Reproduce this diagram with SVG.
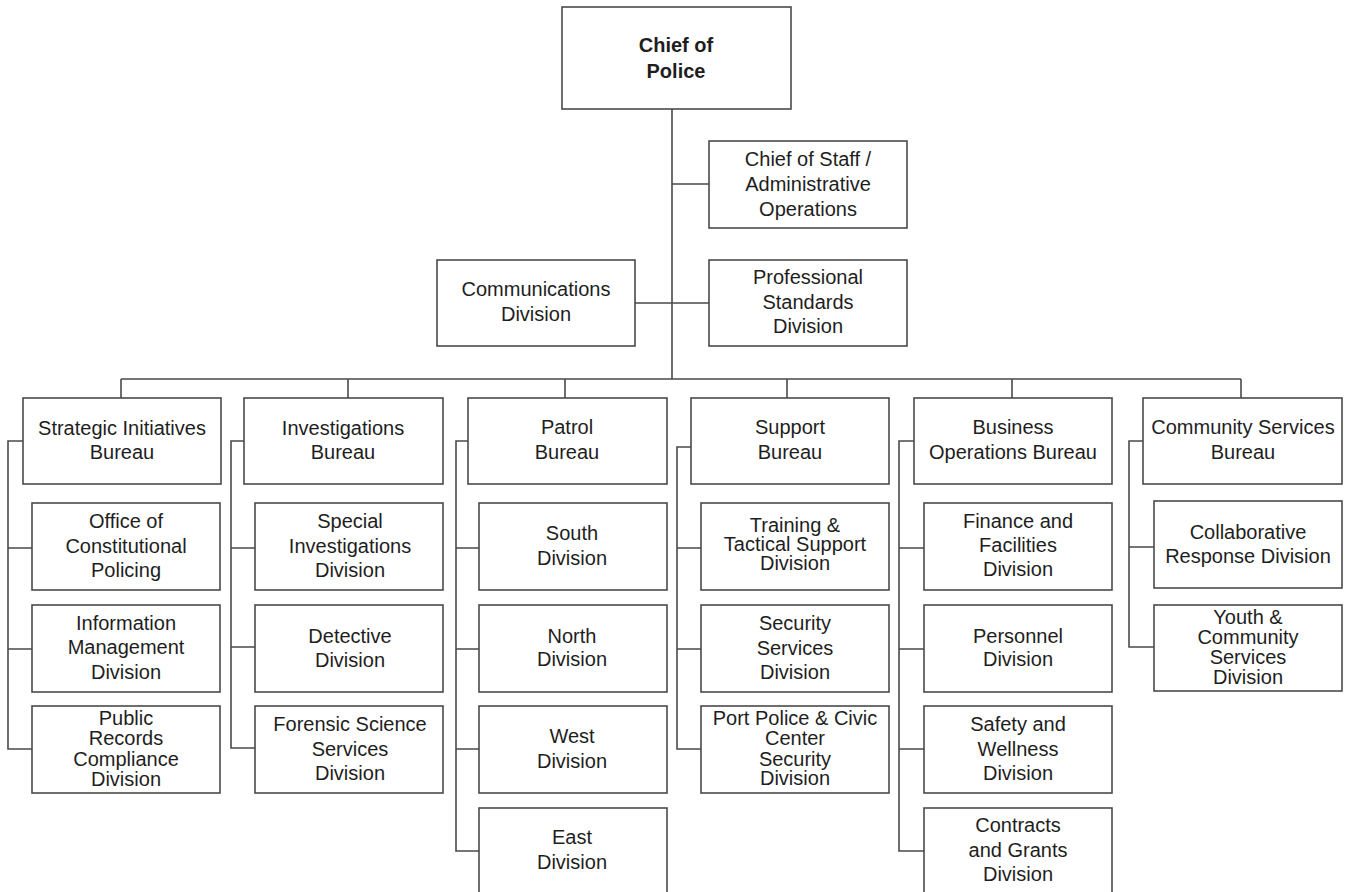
<svg xmlns="http://www.w3.org/2000/svg" width="1348" height="892" viewBox="0 0 1348 892">
<style>
rect.box{fill:#fff;stroke:#4a4a4a;stroke-width:1.6}
.conn path{fill:none;stroke:#4a4a4a;stroke-width:1.6}
text{font-family:"Liberation Sans",Arial,sans-serif;font-size:20px;fill:#1e1e1e;text-anchor:middle}
text.b{font-weight:bold;font-size:20px}
</style>
<rect width="1348" height="892" fill="#fff"/>
<g class="conn">
<path d="M672 109V379M672 184H709M635 303H709M121 379H1241"/>
<path d="M121 379V398M348 379V398M565 379V398M787 379V398M1012 379V398M1241 379V398"/>
<path d="M23 441H8V749H32M8 548H32M8 649H32"/>
<path d="M244 441H231V748H255M231 548H255M231 647H255"/>
<path d="M468 441H456V851H479M456 548H479M456 649H479M456 749H479"/>
<path d="M691 447H677V749H701M677 548H701M677 649H701"/>
<path d="M914 441H899V851H924M899 548H924M899 649H924M899 749H924"/>
<path d="M1143 441H1129V647H1154M1129 547H1154"/>
</g>
<g id="chief"><rect class="box" x="562" y="7" width="229" height="102"/><text class="b"><tspan x="676" y="52">Chief of</tspan><tspan x="676" y="78">Police</tspan></text></g>
<g id="staff"><rect class="box" x="709" y="141" width="198" height="87"/><text><tspan x="808" y="166">Chief of Staff /</tspan><tspan x="808" y="191">Administrative</tspan><tspan x="808" y="216">Operations</tspan></text></g>
<g id="comm"><rect class="box" x="437" y="260" width="198" height="86"/><text><tspan x="536" y="296">Communications</tspan><tspan x="536" y="321">Division</tspan></text></g>
<g id="prof"><rect class="box" x="709" y="260" width="198" height="86"/><text><tspan x="808" y="284">Professional</tspan><tspan x="808" y="309">Standards</tspan><tspan x="808" y="333">Division</tspan></text></g>

<g id="sib"><rect class="box" x="23" y="398" width="198" height="86"/><text><tspan x="122" y="435">Strategic Initiatives</tspan><tspan x="122" y="459">Bureau</tspan></text></g>
<g id="ocp"><rect class="box" x="32" y="503" width="188" height="87"/><text><tspan x="126" y="528">Office of</tspan><tspan x="126" y="553">Constitutional</tspan><tspan x="126" y="577">Policing</tspan></text></g>
<g id="imd"><rect class="box" x="32" y="605" width="188" height="87"/><text><tspan x="126" y="630">Information</tspan><tspan x="126" y="654">Management</tspan><tspan x="126" y="679">Division</tspan></text></g>
<g id="prc"><rect class="box" x="32" y="706" width="188" height="87"/><text><tspan x="126" y="725">Public</tspan><tspan x="126" y="745">Records</tspan><tspan x="126" y="766">Compliance</tspan><tspan x="126" y="786">Division</tspan></text></g>

<g id="inv"><rect class="box" x="244" y="398" width="199" height="86"/><text><tspan x="343" y="435">Investigations</tspan><tspan x="343" y="459">Bureau</tspan></text></g>
<g id="sid"><rect class="box" x="255" y="503" width="188" height="87"/><text><tspan x="350" y="528">Special</tspan><tspan x="350" y="553">Investigations</tspan><tspan x="350" y="577">Division</tspan></text></g>
<g id="det"><rect class="box" x="255" y="605" width="188" height="87"/><text><tspan x="350" y="643">Detective</tspan><tspan x="350" y="667">Division</tspan></text></g>
<g id="fss"><rect class="box" x="255" y="706" width="188" height="87"/><text><tspan x="350" y="731">Forensic Science</tspan><tspan x="350" y="756">Services</tspan><tspan x="350" y="780">Division</tspan></text></g>

<g id="pat"><rect class="box" x="468" y="398" width="199" height="86"/><text><tspan x="567" y="434">Patrol</tspan><tspan x="567" y="459">Bureau</tspan></text></g>
<g id="south"><rect class="box" x="479" y="503" width="188" height="87"/><text><tspan x="572" y="540">South</tspan><tspan x="572" y="565">Division</tspan></text></g>
<g id="north"><rect class="box" x="479" y="605" width="188" height="87"/><text><tspan x="572" y="643">North</tspan><tspan x="572" y="666">Division</tspan></text></g>
<g id="west"><rect class="box" x="479" y="706" width="188" height="87"/><text><tspan x="572" y="743">West</tspan><tspan x="572" y="768">Division</tspan></text></g>
<g id="east"><rect class="box" x="479" y="808" width="188" height="90"/><text><tspan x="572" y="844">East</tspan><tspan x="572" y="869">Division</tspan></text></g>

<g id="sup"><rect class="box" x="691" y="398" width="198" height="86"/><text><tspan x="790" y="434">Support</tspan><tspan x="790" y="459">Bureau</tspan></text></g>
<g id="tts"><rect class="box" x="701" y="503" width="188" height="87"/><text><tspan x="795" y="532">Training &amp;</tspan><tspan x="795" y="551">Tactical Support</tspan><tspan x="795" y="570">Division</tspan></text></g>
<g id="ssd"><rect class="box" x="701" y="605" width="188" height="87"/><text><tspan x="795" y="630">Security</tspan><tspan x="795" y="655">Services</tspan><tspan x="795" y="679">Division</tspan></text></g>
<g id="port"><rect class="box" x="701" y="706" width="188" height="87"/><text><tspan x="795" y="725">Port Police &amp; Civic</tspan><tspan x="795" y="745">Center</tspan><tspan x="795" y="766">Security</tspan><tspan x="795" y="785">Division</tspan></text></g>

<g id="bus"><rect class="box" x="914" y="398" width="198" height="86"/><text><tspan x="1013" y="434">Business</tspan><tspan x="1013" y="459">Operations Bureau</tspan></text></g>
<g id="fin"><rect class="box" x="924" y="503" width="188" height="87"/><text><tspan x="1018" y="528">Finance and</tspan><tspan x="1018" y="552">Facilities</tspan><tspan x="1018" y="576">Division</tspan></text></g>
<g id="per"><rect class="box" x="924" y="605" width="188" height="87"/><text><tspan x="1018" y="643">Personnel</tspan><tspan x="1018" y="666">Division</tspan></text></g>
<g id="saf"><rect class="box" x="924" y="706" width="188" height="87"/><text><tspan x="1018" y="731">Safety and</tspan><tspan x="1018" y="756">Wellness</tspan><tspan x="1018" y="780">Division</tspan></text></g>
<g id="con"><rect class="box" x="924" y="808" width="188" height="90"/><text><tspan x="1018" y="832">Contracts</tspan><tspan x="1018" y="857">and Grants</tspan><tspan x="1018" y="881">Division</tspan></text></g>

<g id="csb"><rect class="box" x="1143" y="398" width="199" height="86"/><text><tspan x="1243" y="434">Community Services</tspan><tspan x="1243" y="459">Bureau</tspan></text></g>
<g id="crd"><rect class="box" x="1154" y="501" width="188" height="87"/><text><tspan x="1248" y="539">Collaborative</tspan><tspan x="1248" y="563">Response Division</tspan></text></g>
<g id="ycs"><rect class="box" x="1154" y="605" width="188" height="86"/><text><tspan x="1248" y="624">Youth &amp;</tspan><tspan x="1248" y="644">Community</tspan><tspan x="1248" y="664">Services</tspan><tspan x="1248" y="684">Division</tspan></text></g>
</svg>
